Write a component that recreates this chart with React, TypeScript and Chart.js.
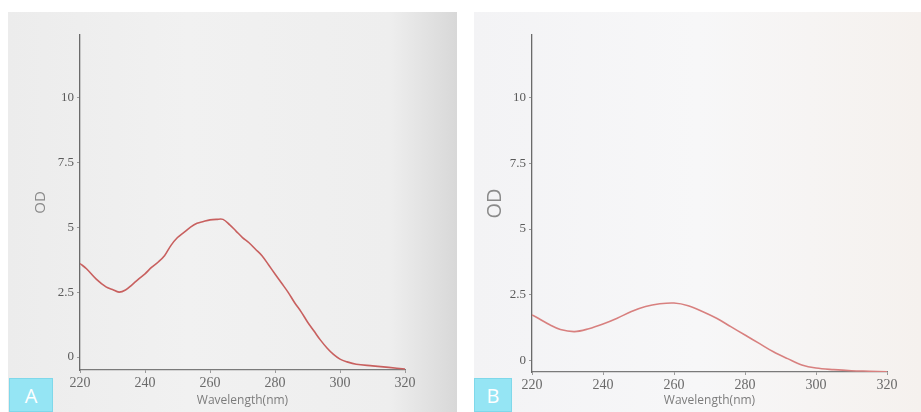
import React, { useEffect, useRef } from "react";
import { Chart, registerables } from "chart.js";

Chart.register(...registerables);

// Wavelength (nm)
const wavelengthsA = [220, 222, 225, 228, 230, 232, 234, 236, 238, 240, 242, 244, 246, 248, 250, 252, 254, 256, 258, 260, 262, 264, 266, 268, 270, 272, 274, 276, 278, 280, 282, 284, 286, 288, 290, 292, 294, 296, 298, 300, 302, 305, 310, 315, 320];
const odA = [3.6, 3.4, 3.0, 2.7, 2.6, 2.5, 2.58, 2.78, 3.0, 3.2, 3.45, 3.65, 3.9, 4.3, 4.6, 4.8, 5.0, 5.15, 5.22, 5.28, 5.3, 5.3, 5.1, 4.85, 4.6, 4.4, 4.15, 3.9, 3.55, 3.2, 2.85, 2.5, 2.1, 1.75, 1.35, 1.0, 0.65, 0.35, 0.1, -0.08, -0.18, -0.28, -0.34, -0.4, -0.46];

const wavelengthsB = [220, 222, 225, 228, 232, 236, 240, 244, 248, 252, 256, 260, 264, 268, 272, 276, 280, 284, 288, 292, 296, 300, 305, 310, 315, 320];
const odB = [1.73, 1.58, 1.35, 1.17, 1.09, 1.2, 1.38, 1.6, 1.86, 2.05, 2.15, 2.18, 2.08, 1.86, 1.6, 1.28, 0.96, 0.64, 0.32, 0.06, -0.18, -0.3, -0.36, -0.4, -0.42, -0.44];

const yTickValues = [0, 2.5, 5, 7.5, 10];
const xTickValues = [220, 240, 260, 280, 300, 320];
const xTitle = "Wavelength(nm)";
const yTitle = "OD";

type PanelProps = {
  xs: number[];
  ys: number[];
  width: number;
  height: number;
  padLeft: number;
  padRight: number;
  padTop: number;
  yAxisWidth: number;
  xAxisHeight: number;
  yMin: number;
  yMax: number;
  lineColor: string;
  odSize: number;
  odPad: number;
};

function Panel(p: PanelProps) {
  const ref = useRef<HTMLCanvasElement | null>(null);
  useEffect(() => {
    if (!ref.current) return;
    const chart = new Chart(ref.current, {
      type: "line",
      data: {
        datasets: [
          {
            data: p.xs.map((x, i) => ({ x, y: p.ys[i] })),
            borderColor: p.lineColor,
            borderWidth: 1.6,
            pointRadius: 0,
            tension: 0.35,
            fill: false,
          },
        ],
      },
      options: {
        animation: false,
        responsive: false,
        layout: { padding: { left: p.padLeft, right: p.padRight, top: p.padTop, bottom: 1 } },
        plugins: { legend: { display: false }, tooltip: { enabled: false } },
        scales: {
          x: {
            type: "linear",
            min: 220,
            max: 320,
            afterBuildTicks: (s: any) => {
              s.ticks = xTickValues.map((v) => ({ value: v }));
            },
            afterFit: (s: any) => {
              s.height = p.xAxisHeight;
            },
            grid: { drawOnChartArea: false, drawTicks: true, tickLength: 3, color: "#9a9a9a" },
            border: { display: true, color: "#7a7a7a", width: 1.3 },
            ticks: {
              padding: 2,
              maxRotation: 0,
              color: "#6a6a6a",
              font: { family: "'Liberation Serif', serif", size: 14 },
            },
            title: {
              display: true,
              text: xTitle,
              color: "#7c7c7c",
              padding: { top: 0, bottom: 3 },
              font: { family: "'Open Sans', sans-serif", size: 12 },
            },
          },
          y: {
            type: "linear",
            min: p.yMin,
            max: p.yMax,
            afterBuildTicks: (s: any) => {
              s.ticks = yTickValues.map((v) => ({ value: v }));
            },
            afterFit: (s: any) => {
              s.width = p.yAxisWidth;
            },
            grid: { drawOnChartArea: false, drawTicks: true, tickLength: 3, color: "#9a9a9a" },
            border: { display: true, color: "#6a6a6a", width: 1.3 },
            ticks: {
              padding: 3,
              color: "#5a5a5a",
              font: { family: "'Liberation Serif', serif", size: 13 },
            },
            title: {
              display: true,
              text: yTitle,
              color: "#8a8a8a",
              padding: { top: p.odPad, bottom: 0 },
              font: { family: "'Open Sans', sans-serif", size: p.odSize },
            },
          },
        },
      },
    });
    return () => chart.destroy();
  }, []);
  return <canvas ref={ref} width={p.width} height={p.height} style={{ display: "block" }} />;
}

const labelBox = (text: string, left: number, width: number): React.CSSProperties => ({
  position: "absolute",
  left,
  top: 378,
  width,
  height: 34,
  background: "#95e5f4",
  border: "1px solid #7fd8ea",
  boxSizing: "border-box",
  color: "#ffffff",
  fontFamily: "'Open Sans', sans-serif",
  fontSize: 20,
  display: "flex",
  alignItems: "flex-end",
  justifyContent: "center",
  paddingBottom: 2,
});

export default function App() {
  return (
    <div style={{ position: "fixed", left: 0, top: 0, width: 921, height: 412, background: "#ffffff", overflow: "hidden" }}>
      <div
        style={{
          position: "absolute",
          left: 8,
          top: 12,
          width: 449,
          height: 400,
          background: "linear-gradient(90deg, #ececec 0%, #f1f1f1 40%, #eeeeee 85%, #d8d8d8 100%)",
        }}
      >
        <Panel
          xs={wavelengthsA}
          ys={odA}
          width={449}
          height={400}
          padLeft={18}
          padRight={52}
          padTop={23}
          yAxisWidth={54}
          xAxisHeight={41}
          yMin={-0.5}
          yMax={12.4}
          lineColor="#c8605f"
          odSize={15}
          odPad={6}
        />
      </div>
      <div
        style={{
          position: "absolute",
          left: 474,
          top: 12,
          width: 447,
          height: 400,
          background: "linear-gradient(90deg, #f3f3f5 0%, #f7f7f8 50%, #f5f1ee 100%)",
        }}
      >
        <Panel
          xs={wavelengthsB}
          ys={odB}
          width={441}
          height={400}
          padLeft={6}
          padRight={28}
          padTop={23}
          yAxisWidth={52}
          xAxisHeight={39}
          yMin={-0.45}
          yMax={12.4}
          lineColor="#d8807f"
          odSize={20}
          odPad={3}
        />
      </div>
      <div style={labelBox("A", 9, 44)}>A</div>
      <div style={labelBox("B", 474, 38)}>B</div>
    </div>
  );
}
